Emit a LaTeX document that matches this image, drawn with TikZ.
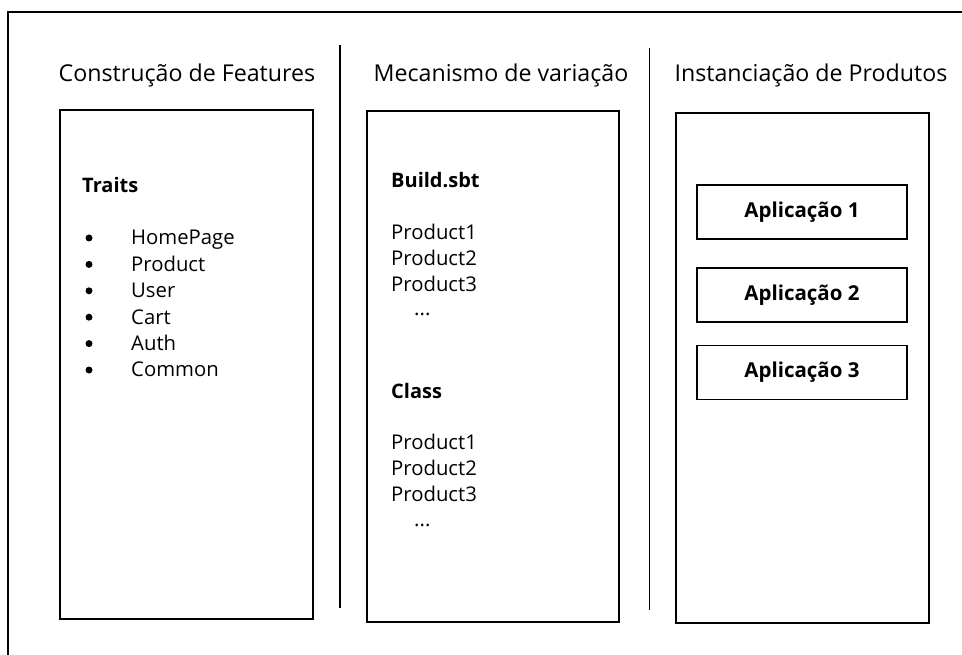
\documentclass[tikz,border=0pt]{standalone}
\usepackage{fontspec}
\setmainfont{Open Sans}
\begin{document}
\begin{tikzpicture}[x=1pt,y=-1pt,
  frame/.style={line width=1.3pt},
  panel/.style={draw, line width=1.5pt, inner sep=0pt},
  appbox/.style={draw, line width=1.4pt, minimum width=210pt, minimum height=54pt,
    inner sep=0pt, font=\fontsize{20.5}{24}\selectfont\bfseries},
  heading/.style={anchor=base, inner sep=0pt, font=\fontsize{23.2}{28}\selectfont},
  item/.style={anchor=base west, inner sep=0pt, font=\fontsize{20.3}{25}\selectfont},
  itemhead/.style={item, font=\fontsize{20}{25}\selectfont\bfseries},
  dot/.style={circle, fill, inner sep=0pt, minimum size=7pt}]
\useasboundingbox (0,0) rectangle (962,655);
\clip (0,0) rectangle (962,655);
% outer frame (runs past the right and bottom edges)
\draw[frame] (8,700) -- (8,12) -- (1000,12);
% column separators
\draw[frame] (340,45) -- (340,608);
\draw[frame] (649.5,48) -- (649.5,610);

% column headings
\node[heading] (h1) at (187,82) {Construção de Features};
\node[heading] (h2) at (501,82) {Mecanismo de variação};
\node[heading] (h3) at (811,82) {Instanciação de Produtos};

% panels
\node[panel, minimum width=253pt, minimum height=509pt] (p1) at (186.5,364.5) {};
\node[panel, minimum width=252pt, minimum height=511pt] (p2) at (493,366.5) {};
\node[panel, minimum width=253pt, minimum height=510pt] (p3) at (802.5,368) {};

% feature traits
\node[itemhead] (traits) at (82,193) {Traits};
\foreach \t [count=\i] in {HomePage,Product,User,Cart,Auth,Common}{
  \node[dot] (b\i) at (89,238+26.4*\i-26.4) {};
  \node[item] (t\i) at (131,245+26.4*\i-26.4) {\t};
}

% variation mechanism
\node[itemhead] (build) at (391,188) {Build.sbt};
\node[item] (bp1) at (391,240) {Product1};
\node[item] (bp2) at (391,266) {Product2};
\node[item] (bp3) at (391,292) {Product3};
\node[item] (bdots) at (414,316) {...};
\node[itemhead] (class) at (391,398) {Class};
\node[item] (cp1) at (391,449) {Product1};
\node[item] (cp2) at (391,475) {Product2};
\node[item] (cp3) at (391,501) {Product3};
\node[item] (cdots) at (414,526) {...};

% product instances
\node[appbox] (a1) at (802,212) {Aplicação 1};
\node[appbox] (a2) at (802,295) {Aplicação 2};
\node[appbox] (a3) at (802,372.5) {Aplicação 3};
\end{tikzpicture}
\end{document}
